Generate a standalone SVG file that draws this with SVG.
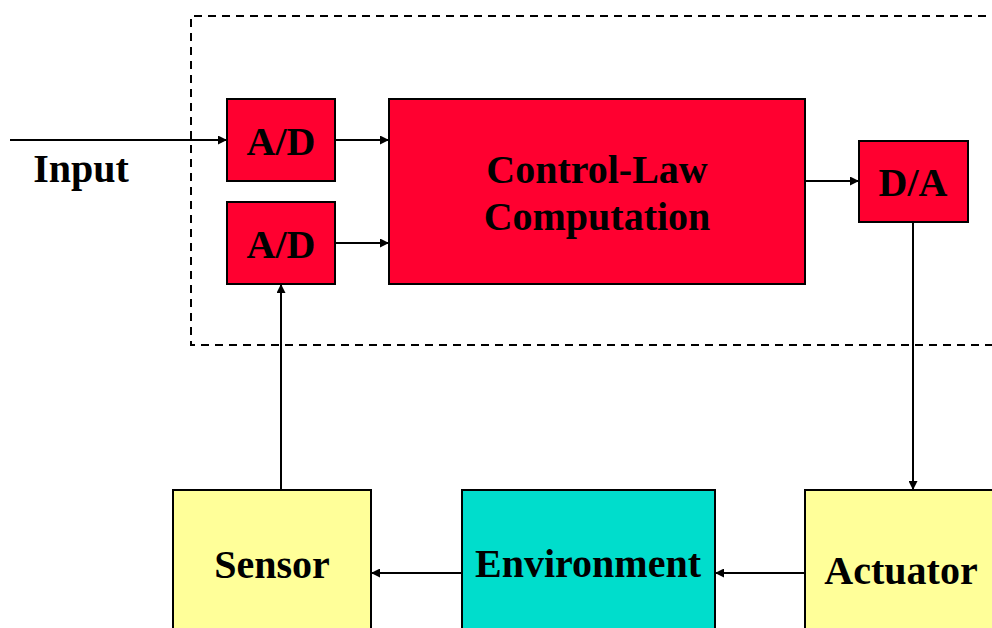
<svg xmlns="http://www.w3.org/2000/svg" width="992" height="628" viewBox="0 0 992 628">
<style>
.box{stroke:#000;stroke-width:2}
.red{fill:#FF0030}
.yel{fill:#FFFF99}
.teal{fill:#00DDCC}
.t{font-family:"Liberation Serif",serif;font-weight:bold;fill:#000;text-anchor:middle;font-size:40px}
.c{stroke:#000;stroke-width:2;fill:none;marker-end:url(#ah)}
</style>
<defs>
<marker id="ah" viewBox="0 0 10 10" refX="10" refY="5" markerWidth="4.5" markerHeight="4.5" orient="auto" markerUnits="strokeWidth">
<path d="M0,0 L10,5 L0,10 z" fill="#000"/>
</marker>
</defs>
<rect width="992" height="628" fill="#fff"/>
<path d="M1000,16 H191 V345 H1000" fill="none" stroke="#000" stroke-width="2" stroke-dasharray="8,6"/>
<g id="connectors">
<path class="c" d="M10,140 H227"/>
<path class="c" d="M335,140 H389"/>
<path class="c" d="M335,243 H389"/>
<path class="c" d="M805,181 H859"/>
<path class="c" d="M913,222 V490"/>
<path class="c" d="M805,573 H715"/>
<path class="c" d="M462,573 H371"/>
<path class="c" d="M281,490 V284"/>
</g>
<text class="t" x="81" y="182">Input</text>
<g id="ad1"><rect class="box red" x="227" y="99" width="108" height="82"/><text class="t" x="281" y="155">A/D</text></g>
<g id="ad2"><rect class="box red" x="227" y="202" width="108" height="82"/><text class="t" x="281" y="258">A/D</text></g>
<g id="cl"><rect class="box red" x="389" y="99" width="416" height="185"/><text class="t" x="597" y="183">Control-Law</text><text class="t" x="597" y="230">Computation</text></g>
<g id="da"><rect class="box red" x="859" y="141" width="109" height="81"/><text class="t" x="913" y="196">D/A</text></g>
<g id="sensor"><rect class="box yel" x="173" y="490" width="198" height="150"/><text class="t" x="272" y="578">Sensor</text></g>
<g id="env"><rect class="box teal" x="462" y="490" width="253" height="150"/><text class="t" x="588" y="577">Environment</text></g>
<g id="act"><rect class="box yel" x="805" y="490" width="200" height="150"/><text class="t" x="901" y="584">Actuator</text></g>
</svg>
